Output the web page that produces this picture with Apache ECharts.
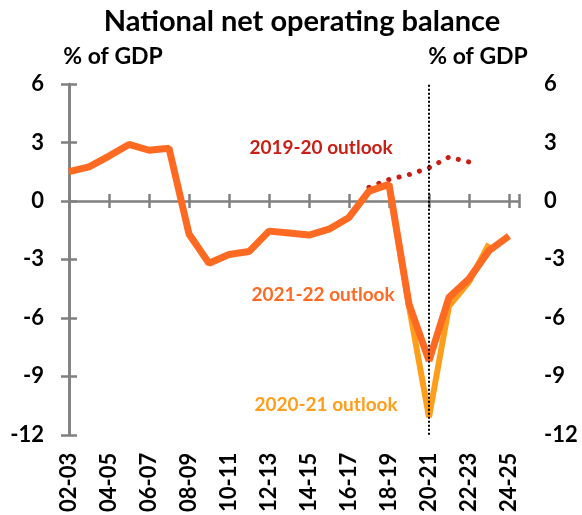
<!DOCTYPE html>
<html>
<head>
<meta charset="utf-8">
<script src="https://cdn.jsdelivr.net/npm/echarts@6/dist/echarts.min.js"></script>
<style>
  html, body { margin: 0; padding: 0; background: #fff; }
  #chart { width: 582px; height: 515px; }
</style>
</head>
<body>
<div id="chart"></div>
<script>
// Financial years shown along the horizontal axis
const years = ['2002-03', '2003-04', '2004-05', '2005-06', '2006-07', '2007-08', '2008-09',
  '2009-10', '2010-11', '2011-12', '2012-13', '2013-14', '2014-15', '2015-16', '2016-17',
  '2017-18', '2018-19', '2019-20', '2020-21', '2021-22', '2022-23', '2023-24', '2024-25'];

// Net operating balance, % of GDP
const outlook2122 = [1.5, 1.75, 2.3, 2.9, 2.6, 2.7, -1.7, -3.2, -2.75, -2.6, -1.55, -1.65,
  -1.75, -1.45, -0.85, 0.5, 0.85, -5.3, -8.2, -4.95, -4.0, -2.55, -1.8];
const outlook2021 = [null, null, null, null, null, null, null, null, null, null, null, null,
  null, null, null, null, 0.85, -5.4, -11.1, -5.4, -4.15, -2.2, null];
const outlook1920 = [null, null, null, null, null, null, null, null, null, null, null, null,
  null, null, null, 0.7, 1.1, 1.35, 1.7, 2.25, 2.0, null, null];

const yTicks = { min: -12, max: 6, step: 3 };
const markerYear = '2020-21';

const FONT = 'Lato, "Noto Sans", sans-serif';
const AXIS_GREY = '#808080';

function pairs(values) {
  return values.map((v, i) => [i, v]).filter(d => d[1] !== null);
}

const chart = echarts.init(document.getElementById('chart'), null, { renderer: 'canvas' });

const yAxisBase = {
  type: 'value',
  min: yTicks.min,
  max: yTicks.max,
  interval: yTicks.step,
  splitLine: { show: false },
  axisLine: { show: true, lineStyle: { color: AXIS_GREY, width: 2.5 } },
  axisTick: { show: true, inside: true, length: 8, lineStyle: { color: AXIS_GREY, width: 2.5 } },
  axisLabel: { color: '#000', fontFamily: FONT, fontWeight: 'bold', fontSize: 22, margin: 25 }
};

const xAxisBase = {
  type: 'value',
  min: 0,
  max: years.length - 0.5,
  interval: 2,
  splitLine: { show: false }
};

chart.setOption({
  animation: false,
  backgroundColor: '#fff',
  grid: { left: 69, right: 63, top: 84, bottom: 77, containLabel: false },
  xAxis: [
    Object.assign({}, xAxisBase, {
      position: 'bottom',
      axisLine: { show: false, onZero: false },
      axisTick: { show: false },
      axisLabel: {
        rotate: 90,
        margin: 18,
        color: '#000',
        fontFamily: FONT,
        fontWeight: 'bold',
        fontSize: 22,
        formatter: v => (Number.isInteger(v) && years[v]) ? years[v].slice(2) : ''
      }
    }),
    Object.assign({}, xAxisBase, {
      position: 'bottom',
      axisLine: { show: true, onZero: true, lineStyle: { color: AXIS_GREY, width: 2.5 } },
      axisTick: { show: true, inside: false, length: 7, lineStyle: { color: AXIS_GREY, width: 2.5 } },
      axisLabel: { show: false }
    }),
    Object.assign({}, xAxisBase, {
      position: 'bottom',
      axisLine: { show: false, onZero: true },
      axisTick: { show: true, inside: true, length: 7, lineStyle: { color: AXIS_GREY, width: 2.5 } },
      axisLabel: { show: false }
    })
  ],
  yAxis: [
    Object.assign({}, yAxisBase, { position: 'left' }),
    Object.assign({}, yAxisBase, { position: 'right' })
  ],
  series: [
    {
      name: '2019-20 outlook',
      type: 'line',
      data: pairs(outlook1920),
      showSymbol: false,
      symbol: 'none',
      lineStyle: { color: '#C81E14', width: 5, type: [0.1, 10.5], cap: 'round' },
      z: 2
    },
    {
      name: '2020-21 outlook',
      type: 'line',
      data: pairs(outlook2021),
      showSymbol: false,
      symbol: 'none',
      lineStyle: { color: '#FF9E1B', width: 6 },
      z: 3
    },
    {
      name: '2021-22 outlook',
      type: 'line',
      data: pairs(outlook2122),
      showSymbol: false,
      symbol: 'none',
      lineStyle: { color: '#FF6A22', width: 7 },
      z: 4,
      markLine: {
        silent: true,
        symbol: 'none',
        label: { show: false },
        lineStyle: { color: '#000', width: 2, type: [2, 2] },
        data: [{ xAxis: years.indexOf(markerYear) }]
      }
    }
  ],
  graphic: [
    { type: 'text', x: 302, y: 22,
      style: { text: 'National net operating balance', align: 'center', verticalAlign: 'middle',
        font: 'bold 29px ' + FONT, fill: '#000' } },
    { type: 'text', x: 113, y: 57,
      style: { text: '% of GDP', align: 'center', verticalAlign: 'middle',
        font: 'bold 23px ' + FONT, fill: '#000' } },
    { type: 'text', x: 478, y: 57,
      style: { text: '% of GDP', align: 'center', verticalAlign: 'middle',
        font: 'bold 23px ' + FONT, fill: '#000' } },
    { type: 'text', x: 321, y: 148,
      style: { text: '2019-20 outlook', align: 'center', verticalAlign: 'middle',
        font: 'bold 19px ' + FONT, fill: '#C81E14' } },
    { type: 'text', x: 323, y: 295,
      style: { text: '2021-22 outlook', align: 'center', verticalAlign: 'middle',
        font: 'bold 19px ' + FONT, fill: '#FF6A22' } },
    { type: 'text', x: 326, y: 405,
      style: { text: '2020-21 outlook', align: 'center', verticalAlign: 'middle',
        font: 'bold 19px ' + FONT, fill: '#FF9E1B' } }
  ]
});
</script>
</body>
</html>
